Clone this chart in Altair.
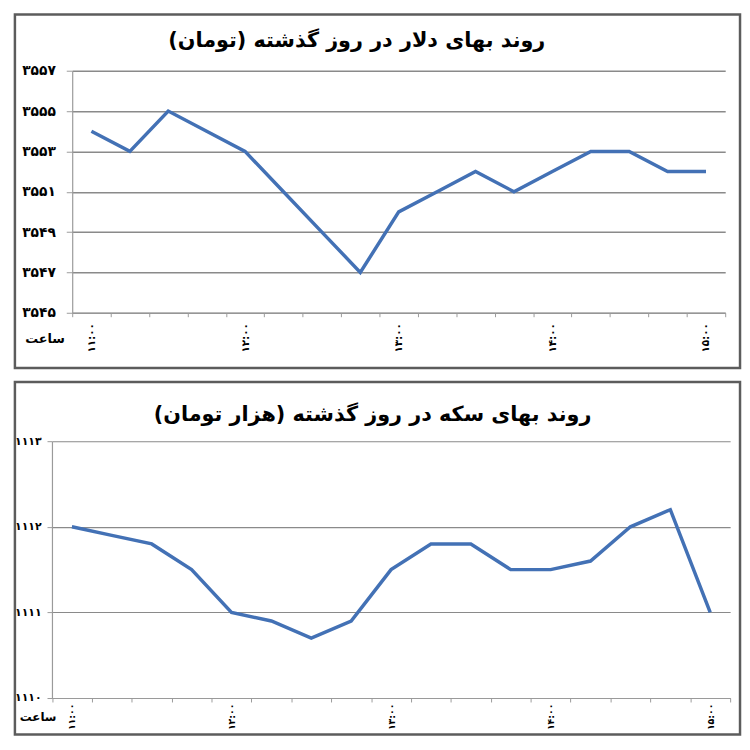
import altair as alt
import pandas as pd

FONT = "DejaVu Sans"
RLM = "\u200f"

# ---- data ----
times = ["۱۱:۰۰", "۱۱:۱۵", "۱۱:۳۰", "۱۱:۴۵", "۱۲:۰۰", "۱۲:۱۵", "۱۲:۳۰", "۱۲:۴۵",
         "۱۳:۰۰", "۱۳:۱۵", "۱۳:۳۰", "۱۳:۴۵", "۱۴:۰۰", "۱۴:۱۵", "۱۴:۳۰", "۱۴:۴۵", "۱۵:۰۰"]
hour_labels = ["۱۱:۰۰", "۱۲:۰۰", "۱۳:۰۰", "۱۴:۰۰", "۱۵:۰۰"]

dollar = [3554, 3553, 3555, 3554, 3553, 3551, 3549, 3547, 3550,
          3551, 3552, 3551, 3552, 3553, 3553, 3552, 3552]
coin = [1112, 1111.9, 1111.8, 1111.5, 1111, 1110.9, 1110.7, 1110.9, 1111.5,
        1111.8, 1111.8, 1111.5, 1111.5, 1111.6, 1112, 1112.2, 1111]

dollar_ticks = [3545, 3547, 3549, 3551, 3553, 3555, 3557]
dollar_tick_labels = ["۳۵۴۵", "۳۵۴۷", "۳۵۴۹", "۳۵۵۱", "۳۵۵۳", "۳۵۵۵", "۳۵۵۷"]
coin_ticks = [1110, 1111, 1112, 1113]
coin_tick_labels = ["۱۱۱۰", "۱۱۱۱", "۱۱۱۲", "۱۱۱۳"]

title_dollar = "روند بهای دلار در روز گذشته (تومان)"
title_coin = "روند بهای سکه در روز گذشته (هزار تومان)"
x_title = "ساعت"

LINE = "#4371B5"
AXIS = "#9a9a9a"
GRID = "#8a8a8a"


def ymap_expr(vals, labels):
    pairs = ",".join(f"'{v}':'{l}'" for v, l in zip(vals, labels))
    return "{" + pairs + "}['' + datum.value]"


xlab_expr = ("indexof([" + ",".join(f"'{h}'" for h in hour_labels) +
             "], datum.value) >= 0 ? datum.value : ''")


def panel(values, ticks, tick_labels, title, W, H, xr, yr, title_dx, title_offset,
          title_size, ylab_size, ylab_pad, ytick, xlab_size, xlab_pad,
          xt_x, xt_y, xt_size, grid_w):
    df = pd.DataFrame({"time": times, "value": values})
    return alt.Chart(df).mark_line(color=LINE, strokeWidth=3.5).encode(
        x=alt.X("time:N",
                scale=alt.Scale(type="band", domain=times, range=xr,
                                paddingInner=0, paddingOuter=0),
                axis=alt.Axis(title=x_title, titleX=xt_x, titleY=xt_y, titleAngle=0,
                              titleAlign="center", titleBaseline="middle",
                              titleFont=FONT, titleFontSize=xt_size,
                              titleFontWeight="bold", titleColor="black",
                              labelExpr=xlab_expr, labelAngle=270, labelFont=FONT,
                              labelFontSize=xlab_size, labelFontWeight="bold",
                              labelColor="black", labelPadding=xlab_pad,
                              labelOverlap=False, tickSize=4, tickBand="extent",
                              tickColor=AXIS, domainColor=AXIS, domainWidth=1.2,
                              offset=-(H - yr[0]), grid=False)),
        y=alt.Y("value:Q",
                scale=alt.Scale(domain=[ticks[0], ticks[-1]], range=yr,
                                nice=False, zero=False),
                axis=alt.Axis(title=None, values=ticks,
                              labelExpr=ymap_expr(ticks, tick_labels),
                              labelFont=FONT, labelFontSize=ylab_size,
                              labelFontWeight="bold", labelColor="black",
                              labelPadding=ylab_pad, tickSize=ytick,
                              tickColor=AXIS, domainColor=AXIS, domainWidth=1.2,
                              grid=True, gridColor=GRID, gridWidth=grid_w,
                              offset=-xr[0])),
    ).properties(
        width=W, height=H,
        title=alt.TitleParams(text=RLM + title + RLM, font=FONT, fontSize=title_size,
                              fontWeight="bold", color="black", anchor="middle",
                              offset=title_offset, dx=title_dx),
    )


top = panel(dollar, dollar_ticks, dollar_tick_labels, title_dollar,
            W=734, H=358, xr=[58, 719], yr=[302, 57], title_dx=-21, title_offset=-37,
            title_size=21, ylab_size=14, ylab_pad=11, ytick=6,
            xlab_size=10.5, xlab_pad=6, xt_x=30, xt_y=26, xt_size=13, grid_w=1.5)

bottom = panel(coin, coin_ticks, coin_tick_labels, title_coin,
               W=734, H=357, xr=[37.5, 724], yr=[320, 60], title_dx=-5, title_offset=-44,
               title_size=21, ylab_size=11, ylab_pad=6, ytick=5,
               xlab_size=9.5, xlab_pad=1, xt_x=23, xt_y=19, xt_size=12, grid_w=1.1)

chart = alt.vconcat(top, bottom, spacing=10).properties(
    padding=0, background="white"
).configure_view(stroke="#5c5c5c", strokeWidth=2.5)

chart.save("out.html", embed_options={"renderer": "svg", "actions": False})
